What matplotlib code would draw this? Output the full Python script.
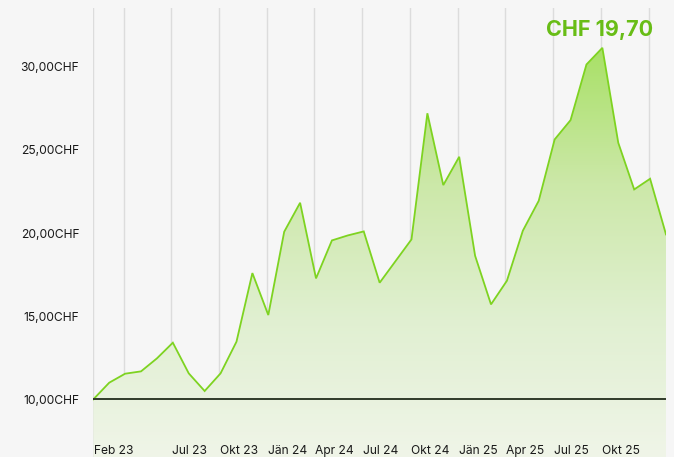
import matplotlib
matplotlib.use("Agg")
import matplotlib.pyplot as plt
import numpy as np
from matplotlib.colors import LinearSegmentedColormap

plt.rcParams['font.family'] = ['Inter', 'DejaVu Sans']

# Monthly values Feb 2023 .. Feb 2026 (CHF)
values = [10.0, 11.0, 11.54, 11.68, 12.46, 13.4, 11.56, 10.5, 11.56, 13.46,
          17.58, 15.06, 20.06, 21.8, 17.26, 19.54, 19.84, 20.08, 17.0, 18.3,
          19.6, 27.17, 22.86, 24.56, 18.62, 15.7, 17.12, 20.12, 21.92, 25.6,
          26.76, 30.1, 31.1, 25.4, 22.6, 23.24, 19.9]
x_labels = ["Feb 23", "", "Jul 23", "Okt 23", "Jän 24", "Apr 24", "Jul 24",
            "Okt 24", "Jän 25", "Apr 25", "Jul 25", "Okt 25", ""]
label_months = [0, 2, 5, 8, 11, 14, 17, 20, 23, 26, 29, 32, 35]
y_ticks = [10, 15, 20, 25, 30]
y_labels = ["10,00CHF", "15,00CHF", "20,00CHF", "25,00CHF", "30,00CHF"]
baseline = 10.0
title = "CHF 19,70"

fig = plt.figure(figsize=(6.74, 4.57), dpi=100)
fig.patch.set_facecolor('#f6f6f6')
ax = fig.add_axes([93.3 / 674, 0.0, (666 - 93.3) / 674, 449 / 457])
ax.set_facecolor('#f6f6f6')

x = np.arange(len(values))
ymin, ymax = 6.54, 33.49
ax.set_xlim(0, len(values) - 1)
ax.set_ylim(ymin, ymax)

# gridlines
for m in label_months:
    gx = m - 0.1 if m > 0 else 0.0
    ax.axvline(gx, color='#dcdcdc', lw=1.0, zorder=1)

# gradient fill
cmap = LinearSegmentedColormap.from_list('g', [(0.94, 0.96, 0.91), (0.88, 0.94, 0.82),
                                               (0.80, 0.91, 0.66), (0.66, 0.88, 0.40)])
grad = np.linspace(0, 1, 256).reshape(-1, 1)
top = max(values)
im = ax.imshow(grad, extent=[0, len(values) - 1, ymin, top], origin='lower',
               aspect='auto', cmap=cmap, zorder=2)
poly = ax.fill_between(x, values, ymin, color='none', lw=0)
path = poly.get_paths()[0]
im.set_clip_path(path, transform=ax.transData)

ax.plot(x, values, color='#7ed321', lw=1.3, zorder=4, solid_joinstyle='miter')
ax.axhline(baseline, color='#2f3a2a', lw=1.4, zorder=5)

ax.set_xticks([])
ax.set_yticks([])
for s in ax.spines.values():
    s.set_visible(False)

# y labels
for v, lab in zip(y_ticks, y_labels):
    ax.text(-14.0 / 15.92, v - 0.12, lab, ha='right', va='center', fontsize=8.7,
            color='#1a1a1a', clip_on=False)

# x labels
for m, lab in zip(label_months, x_labels):
    if lab:
        gx = m - 0.1 if m > 0 else 0.0
        ax.text(gx + 0.06, ymin + 0.38, lab, ha='left', va='center',
                fontsize=8.7, color='#1a1a1a')

fig.text(653 / 674, 1 - 30 / 457, title, ha='right', va='center',
         fontsize=15.5, fontweight='bold', color='#68bd16')

fig.savefig('out.png', dpi=100, facecolor=fig.get_facecolor())
